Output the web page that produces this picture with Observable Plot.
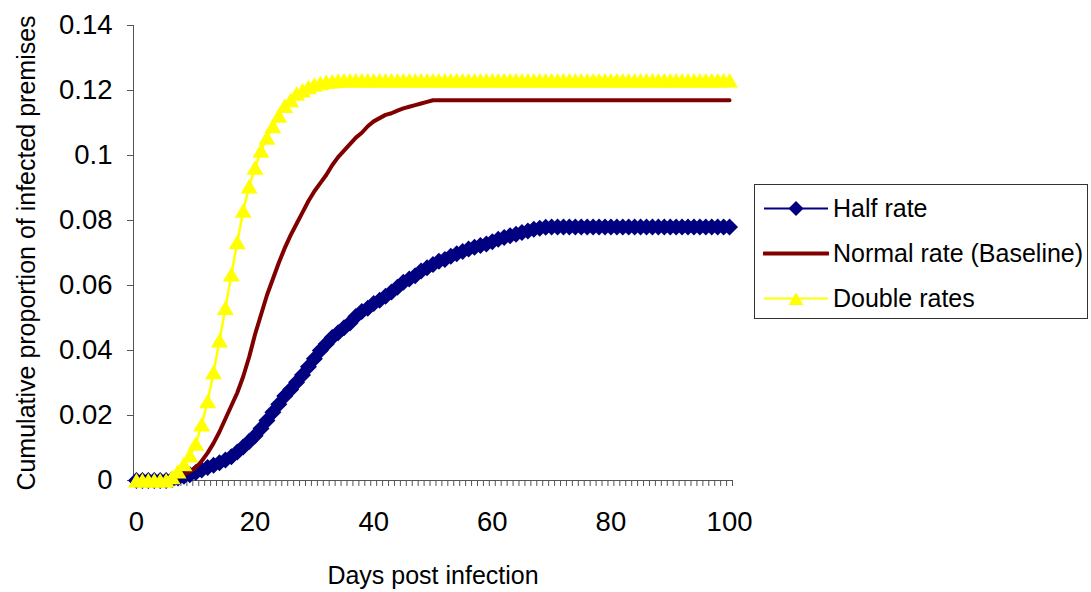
<!DOCTYPE html>
<html>
<head>
<meta charset="utf-8">
<script src="https://cdn.jsdelivr.net/npm/d3@7"></script>
<script src="https://cdn.jsdelivr.net/npm/@observablehq/plot@0.6"></script>
<style>
  html, body { margin: 0; padding: 0; background: #fff; }
  #wrap { position: relative; width: 1091px; height: 592px; font-family: "Liberation Sans", Arial, sans-serif; }
  #legend { position: absolute; left: 754px; top: 184px; width: 334px; height: 135px; border: 1px solid #333; box-sizing: border-box; background: #fff; }
  .row { position: absolute; left: 8px; height: 30px; display: flex; align-items: center; font-size: 25px; color: #000; white-space: nowrap; }
  .row svg { margin-right: 4px; }
</style>
</head>
<body>
<div id="wrap">
  <div id="chart"></div>
  <div id="legend"></div>
</div>
<script>
// Categories: days post infection 0..100
const days = d3.range(0, 101);
const xTickLabels = [0, 20, 40, 60, 80, 100];
const yTicks = [0, 0.02, 0.04, 0.06, 0.08, 0.1, 0.12, 0.14];
const seriesNames = ["Half rate", "Normal rate (Baseline)", "Double rates"];
const seriesColors = ["#000080", "#800000", "#FFFF00"];

const halfRate = [
  0, 0, 0, 0, 0, 0,
  0.0003, 0.0008, 0.0013, 0.0018, 0.0025, 0.0032, 0.004, 0.0047, 0.0055, 0.0063,
  0.0073, 0.0088, 0.0103, 0.012, 0.0138, 0.016, 0.0185, 0.021, 0.0235, 0.026,
  0.028, 0.0302, 0.0325, 0.035, 0.0375, 0.04, 0.042, 0.044, 0.0455, 0.047,
  0.0485, 0.0505, 0.052, 0.053, 0.0545, 0.0555, 0.0567, 0.058, 0.0595, 0.061,
  0.062, 0.063, 0.0645, 0.0655, 0.0665, 0.0675, 0.068, 0.069, 0.0698, 0.0705,
  0.0712, 0.0718, 0.0723, 0.0728, 0.0735, 0.0742, 0.0748, 0.0753, 0.0758, 0.0763,
  0.0768, 0.0773, 0.0776, 0.0779,
  0.078, 0.078, 0.078, 0.078, 0.078, 0.078, 0.078, 0.078, 0.078, 0.078,
  0.078, 0.078, 0.078, 0.078, 0.078, 0.078, 0.078, 0.078, 0.078, 0.078,
  0.078, 0.078, 0.078, 0.078, 0.078, 0.078, 0.078, 0.078, 0.078, 0.078, 0.078
];

const normalRate = [
  0, 0, 0, 0, 0, 0,
  0.0005, 0.001, 0.0018, 0.0028, 0.004, 0.006, 0.0085, 0.0115, 0.015, 0.019,
  0.023, 0.027, 0.032, 0.038, 0.045, 0.051, 0.057, 0.062, 0.067, 0.0715,
  0.0755, 0.079, 0.0825, 0.086, 0.089, 0.0915, 0.094, 0.097, 0.0995, 0.1015,
  0.1035, 0.1055, 0.107, 0.109, 0.1105, 0.1115, 0.1125, 0.113, 0.1138, 0.1145,
  0.115, 0.1155, 0.116, 0.1165,
  0.117, 0.117, 0.117, 0.117, 0.117, 0.117, 0.117, 0.117, 0.117, 0.117,
  0.117, 0.117, 0.117, 0.117, 0.117, 0.117, 0.117, 0.117, 0.117, 0.117,
  0.117, 0.117, 0.117, 0.117, 0.117, 0.117, 0.117, 0.117, 0.117, 0.117,
  0.117, 0.117, 0.117, 0.117, 0.117, 0.117, 0.117, 0.117, 0.117, 0.117,
  0.117, 0.117, 0.117, 0.117, 0.117, 0.117, 0.117, 0.117, 0.117, 0.117, 0.117
];

const doubleRates = [
  0, 0, 0, 0, 0, 0,
  0.001, 0.0028, 0.005, 0.0077, 0.0113, 0.0172, 0.0244, 0.0333, 0.0431, 0.0531,
  0.0634, 0.0733, 0.083, 0.0905, 0.0962, 0.1015, 0.1055, 0.109, 0.1122, 0.1152,
  0.117, 0.119, 0.12, 0.121, 0.1218, 0.1222, 0.1226, 0.1228, 0.123, 0.1231,
  0.1231, 0.1231, 0.1231, 0.1231, 0.1231, 0.1231, 0.1231, 0.1231, 0.1231, 0.1231,
  0.1231, 0.1231, 0.1231, 0.1231, 0.1231, 0.1231, 0.1231, 0.1231, 0.1231, 0.1231,
  0.1231, 0.1231, 0.1231, 0.1231, 0.1231, 0.1231, 0.1231, 0.1231, 0.1231, 0.1231,
  0.1231, 0.1231, 0.1231, 0.1231, 0.1231, 0.1231, 0.1231, 0.1231, 0.1231, 0.1231,
  0.1231, 0.1231, 0.1231, 0.1231, 0.1231, 0.1231, 0.1231, 0.1231, 0.1231, 0.1231,
  0.1231, 0.1231, 0.1231, 0.1231, 0.1231, 0.1231, 0.1231, 0.1231, 0.1231, 0.1231,
  0.1231, 0.1231, 0.1231, 0.1231, 0.1231
];

const xDomain = [-0.5, 100.5];
const categoryEdges = d3.range(-0.5, 101, 1);

const toRows = (vals) => days.map((d, i) => ({day: d, value: vals[i]}));
const half = toRows(halfRate), normal = toRows(normalRate), dbl = toRows(doubleRates);

const diamond = {draw(ctx) { const r = 8.5; ctx.moveTo(0, -r); ctx.lineTo(r, 0); ctx.lineTo(0, r); ctx.lineTo(-r, 0); ctx.closePath(); }};
const triangle = {draw(ctx) { ctx.moveTo(0, -7.5); ctx.lineTo(8.5, 7); ctx.lineTo(-8.5, 7); ctx.closePath(); }};

const axisColor = "#555";
const font = "Liberation Sans, Arial, sans-serif";

const chart = Plot.plot({
  width: 1091,
  height: 592,
  marginLeft: 133,
  marginRight: 359,
  marginTop: 25,
  marginBottom: 112,
  style: {fontFamily: font, background: "#fff", color: "#000"},
  x: {domain: xDomain, axis: null},
  y: {domain: [0, 0.14], axis: null},
  marks: [
    Plot.ruleX([xDomain[0]], {stroke: axisColor, strokeWidth: 1}),
    Plot.ruleY([0], {stroke: axisColor, strokeWidth: 1}),
    Plot.axisY({ticks: yTicks, tickSize: 6, tickPadding: 15, stroke: axisColor,
      tickFormat: d => String(+d.toFixed(2)), fontSize: 27.5, fill: "#000",
      label: "Cumulative proportion of infected premises", labelAnchor: "center", labelArrow: "none", labelOffset: 116}),
    Plot.axisX({ticks: categoryEdges, tickSize: 6, tickFormat: () => "", stroke: axisColor, label: null}),
    Plot.axisX({ticks: xTickLabels, tickSize: 0, tickPadding: 31, fontSize: 27.5, fill: "#000",
      label: "Days post infection", labelAnchor: "center", labelArrow: "none", labelOffset: 103}),
    Plot.line(half, {x: "day", y: "value", stroke: seriesColors[0], strokeWidth: 2}),
    Plot.dot(half, {x: "day", y: "value", symbol: diamond, fill: seriesColors[0], stroke: null}),
    Plot.line(normal, {x: "day", y: "value", stroke: seriesColors[1], strokeWidth: 4}),
    Plot.line(dbl, {x: "day", y: "value", stroke: seriesColors[2], strokeWidth: 2.5}),
    Plot.dot(dbl, {x: "day", y: "value", symbol: triangle, fill: seriesColors[2], stroke: null})
  ]
});
chart.querySelectorAll("[aria-label='y-axis label'], [aria-label='x-axis label']").forEach(g => g.setAttribute("font-size", "25"));
document.getElementById("chart").appendChild(chart);

// Legend
const legend = document.getElementById("legend");
const rowTops = [8, 53, 98];
const markerPaths = ["M33,3L40.5,10.5L33,18L25.5,10.5Z", null, "M33,4.5L40.5,17L25.5,17Z"];
const lineWidths = [2, 4, 2];
seriesNames.forEach((name, i) => {
  const row = document.createElement("div");
  row.className = "row";
  row.style.top = rowTops[i] + "px";
  const svg = `<svg width="66" height="21" viewBox="0 0 66 21">
    <line x1="1" x2="65" y1="10.5" y2="10.5" stroke="${seriesColors[i]}" stroke-width="${lineWidths[i]}" stroke-linecap="${i === 1 ? "round" : "butt"}"/>
    ${markerPaths[i] ? `<path d="${markerPaths[i]}" fill="${seriesColors[i]}"/>` : ""}
  </svg>`;
  row.innerHTML = svg + `<span>${name}</span>`;
  legend.appendChild(row);
});
</script>
</body>
</html>
